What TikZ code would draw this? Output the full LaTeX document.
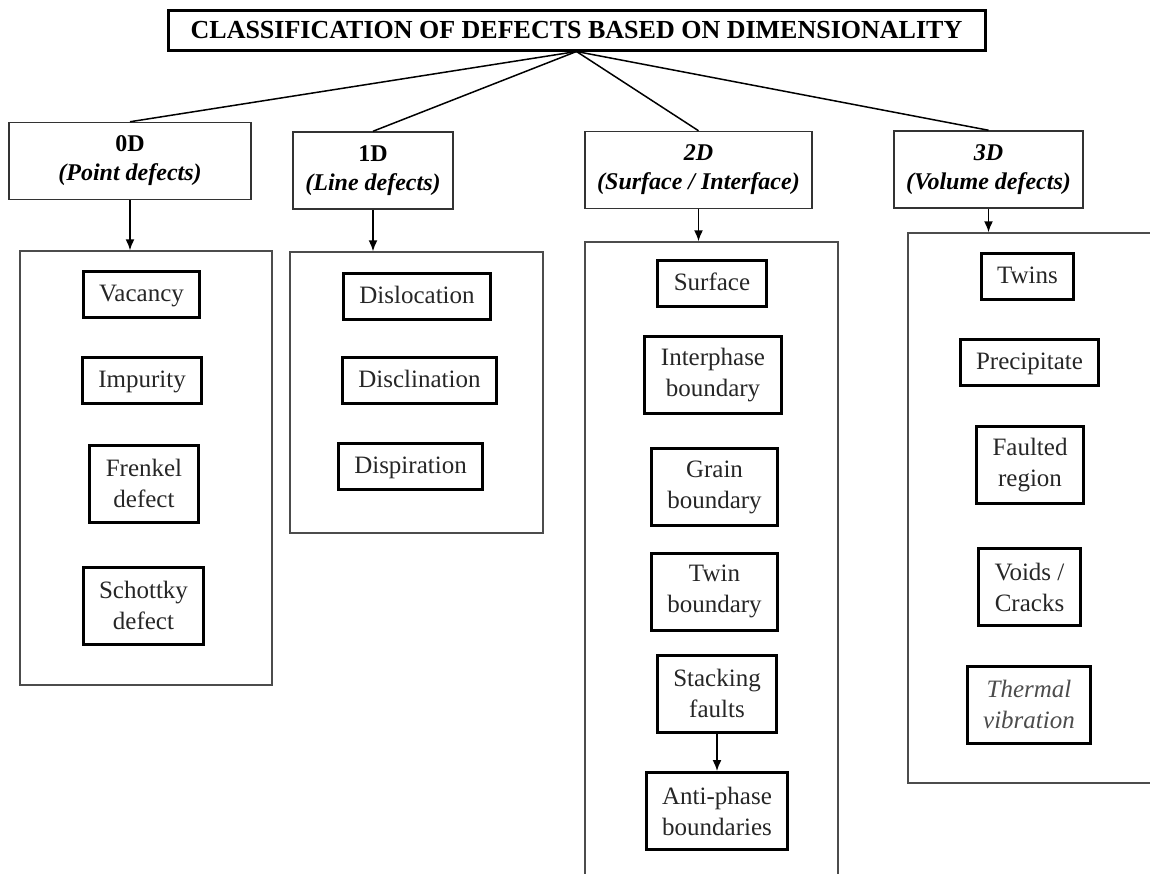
\documentclass[tikz,border=0pt]{standalone}
\usepackage{fontspec}
\setmainfont{Liberation Serif}
\usetikzlibrary{arrows.meta}
\begin{document}
\begin{tikzpicture}[x=1pt,y=-1pt,
		maintitle/.style = {draw, line width=3pt, minimum width=817pt, minimum height=40pt, inner sep=0pt, font=\fontsize{26}{30}\selectfont\bfseries},
		dimbox/.style = {draw=black!80, line width=1.5pt, minimum height=77pt, inner sep=0pt, align=center, font=\fontsize{24}{29}\selectfont\bfseries},
		groupbox/.style = {draw=black!70, line width=1.5pt, inner sep=0pt},
		defectbase/.style = {draw, line width=3pt, inner xsep=16pt, inner ysep=0pt, align=center, text=black!85, font=\fontsize{25}{31}\selectfont},
		defectbox/.style = {defectbase, minimum height=46pt, text height=17pt, text depth=3pt},
		defectbox2/.style = {defectbase, minimum height=77pt},
		link/.style = {line width=1.5pt},
		arr/.style = {line width=1.5pt, -{Latex[length=11pt,width=9pt]}}]
			\useasboundingbox (0,0) rectangle (1150,873);
			\clip (0,0) rectangle (1150,873);
			% title and the four classes
			\node[maintitle] (cls) at (576.5,30) {CLASSIFICATION OF DEFECTS BASED ON DIMENSIONALITY};
			\node[dimbox, minimum width=242pt] (d0) at (130,161) {0D\\\textit{(Point defects)}};
			\node[dimbox, minimum width=160pt] (d1) at (373,170.5) {1D\\\textit{(Line defects)}};
			\node[dimbox, minimum width=227pt] (d2) at (698.5,170) {\textit{2D}\\\textit{(Surface / Interface)}};
			\node[dimbox, minimum width=189pt] (d3) at (988.5,169.5) {\textit{3D}\\\textit{(Volume defects)}};
			\foreach \d in {d0,d1,d2,d3}
				\draw[link] (cls.south) -- (\d.north);
			% frames
			\node[groupbox, minimum width=252pt, minimum height=434pt] (g0) at (146,468) {};
			\node[groupbox, minimum width=253pt, minimum height=281pt] (g1) at (416.5,392.5) {};
			\node[groupbox, minimum width=253pt, minimum height=680pt] (g2) at (711.5,582) {};
			\node[groupbox, minimum width=300pt, minimum height=550pt] (g3) at (1058,508) {};
			\draw[arr] (d0.south) -- (d0.south |- g0.north);
			\draw[arr] (d1.south) -- (d1.south |- g1.north);
			\draw[arr] (d2.south) -- (d2.south |- g2.north);
			\draw[arr] (d3.south) -- (d3.south |- g3.north);
			% 0D
			\node[defectbox] (vac) at (141.5,294.5) {Vacancy};
			\node[defectbox] (imp) at (142,380.5) {Impurity};
			\node[defectbox2] (frk) at (144,483.5) {Frenkel\\defect};
			\node[defectbox2] (sch) at (143.5,605.5) {Schottky\\defect};
			% 1D
			\node[defectbox] (dslo) at (417,296) {Dislocation};
			\node[defectbox] (dscl) at (419.5,380) {Disclination};
			\node[defectbox] (dspi) at (410.5,466.5) {Dispiration};
			% 2D
			\node[defectbox] (srf) at (712,283) {Surface};
			\node[defectbox2] (iph) at (713,375) {Interphase\\boundary};
			\node[defectbox2] (grb) at (714.5,487) {Grain\\boundary};
			\node[defectbox2] (twb) at (714.5,591.5) {Twin\\boundary};
			\node[defectbox2] (stf) at (717,693.5) {Stacking\\faults};
			\node[defectbox2] (apb) at (717,811) {Anti-phase\\boundaries};
			\draw[arr] (stf.south) -- (apb.north);
			% 3D
			\node[defectbox] (twn) at (1027.5,276) {Twins};
			\node[defectbox] (prc) at (1029.5,362) {Precipitate};
			\node[defectbox2] (flt) at (1030,465) {Faulted\\region};
			\node[defectbox2] (vds) at (1029.5,587) {Voids /\\Cracks};
			\node[defectbox2, text=black!70, font=\fontsize{25}{31}\selectfont\itshape] (thv) at (1029,704.5) {Thermal\\vibration};
\end{tikzpicture}
\end{document}
